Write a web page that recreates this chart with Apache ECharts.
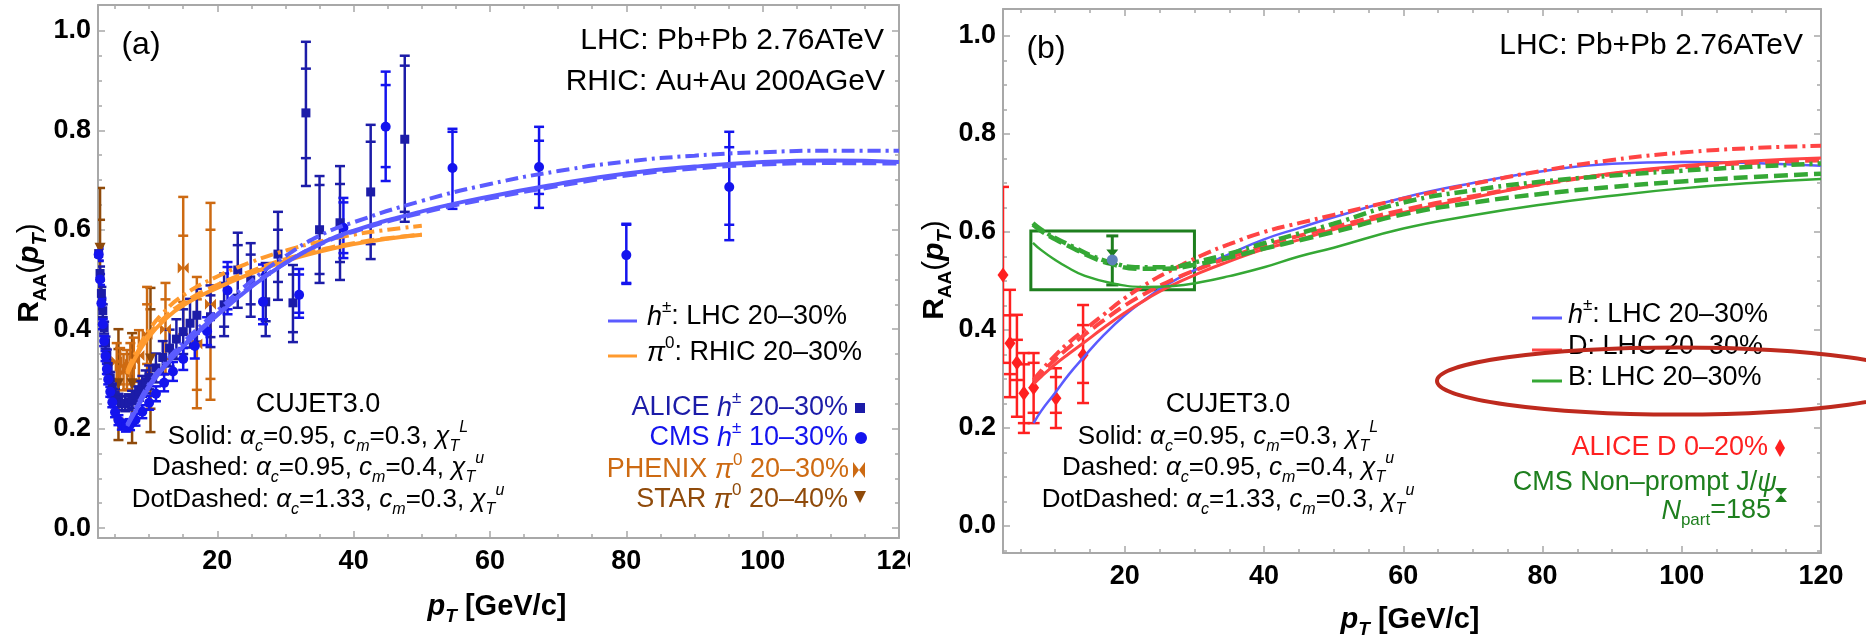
<!DOCTYPE html>
<html><head><meta charset="utf-8">
<script src="https://cdn.jsdelivr.net/npm/echarts@6/dist/echarts.min.js"></script>
<style>html,body{margin:0;padding:0;background:#fff}#c{width:1866px;height:640px}</style>
</head><body><div id="c"></div>
<script>
// ================= DATA =================
// axis ticks
const xMajor = [20, 40, 60, 80, 100, 120];
const xMinor = [5, 10, 15, 25, 30, 35, 45, 50, 55, 65, 70, 75, 85, 90, 95, 105, 110, 115];
const yMajor = [0, 0.2, 0.4, 0.6, 0.8, 1.0];
const yMinorA = [0.05, 0.1, 0.15, 0.25, 0.3, 0.35, 0.45, 0.5, 0.55, 0.65, 0.7, 0.75, 0.85, 0.9, 0.95];
const yMinorB = [-0.05, 0.05, 0.1, 0.15, 0.25, 0.3, 0.35, 0.45, 0.5, 0.55, 0.65, 0.7, 0.75, 0.85, 0.9, 0.95];

// Panel (a) data: [pT, RAA, errLow, errHigh, sysLow, sysHigh]
const aliceH = [
 [2.6,0.552,0.537,0.567],[2.8,0.512,0.498,0.526],[3.0,0.472,0.459,0.485],[3.2,0.437,0.424,0.45],
 [3.4,0.403,0.391,0.415],[3.6,0.373,0.361,0.385],[3.8,0.347,0.335,0.359],[4.0,0.325,0.313,0.337],
 [4.3,0.302,0.29,0.314],[4.6,0.284,0.272,0.296],[5.0,0.268,0.256,0.28],[5.5,0.257,0.244,0.27],
 [6.0,0.251,0.237,0.265],[6.5,0.25,0.235,0.265],[7.0,0.253,0.237,0.269],[7.5,0.259,0.242,0.276],
 [8.0,0.267,0.249,0.285],[8.5,0.276,0.256,0.296],[9.0,0.285,0.264,0.306],[9.5,0.294,0.271,0.317],
 [10.0,0.303,0.279,0.327],[11.0,0.322,0.293,0.351],[12.0,0.343,0.31,0.376],[13.0,0.362,0.325,0.399],
 [14.0,0.38,0.34,0.42],[15.0,0.395,0.35,0.44],[16.0,0.412,0.363,0.461],[17.0,0.428,0.375,0.481],
 [19.0,0.425,0.364,0.488,0.384,0.468],[21.0,0.449,0.386,0.512,0.405,0.493],
 [23.0,0.519,0.443,0.594,0.469,0.569],[24.9,0.499,0.425,0.573,0.45,0.55],
 [27.1,0.455,0.386,0.533,0.416,0.51],[28.9,0.551,0.459,0.636,0.495,0.6],
 [31.1,0.453,0.374,0.529,0.394,0.51],[33.0,0.835,0.688,0.978,0.744,0.924],
 [35.0,0.6,0.493,0.708,0.511,0.69],[38.0,0.614,0.499,0.728,0.535,0.692],
 [42.5,0.676,0.541,0.811,0.571,0.777],[47.5,0.782,0.616,0.95,0.636,0.93]
];
const cmsH = [
 [2.6,0.55,0.538,0.562],[2.8,0.5,0.489,0.511],[3.0,0.452,0.441,0.463],[3.2,0.41,0.4,0.42],
 [3.4,0.376,0.366,0.386],[3.6,0.346,0.336,0.356],[3.8,0.32,0.31,0.33],[4.0,0.299,0.289,0.309],
 [4.3,0.274,0.264,0.284],[4.6,0.253,0.243,0.263],[5.0,0.233,0.223,0.243],[5.5,0.217,0.207,0.227],
 [6.0,0.208,0.198,0.218],[6.6,0.205,0.194,0.216],[7.2,0.208,0.197,0.219],[8.0,0.218,0.206,0.23],
 [9.0,0.234,0.221,0.247],[10.0,0.252,0.238,0.266],[11.0,0.27,0.255,0.285],[12.2,0.292,0.275,0.309],
 [13.5,0.315,0.296,0.334],[15.0,0.34,0.318,0.362],[16.7,0.366,0.341,0.391],[18.5,0.396,0.368,0.424],
 [21.5,0.478,0.43,0.535,0.44,0.525],[26.7,0.455,0.41,0.53,0.42,0.52],
 [32.0,0.469,0.423,0.521,0.433,0.51],[38.5,0.604,0.543,0.664,0.553,0.655],
 [44.7,0.807,0.698,0.918,0.726,0.891],[54.5,0.724,0.642,0.803,0.65,0.797],
 [67.2,0.726,0.644,0.807,0.672,0.779],[80.0,0.549,0.491,0.612,0.493,0.61],
 [95.1,0.686,0.579,0.797,0.61,0.766]
];
const phenixPi0 = [
 [5.25,0.335,0.3,0.372],[5.75,0.325,0.289,0.362],[6.25,0.313,0.277,0.35],[6.75,0.318,0.279,0.358],
 [7.25,0.33,0.289,0.372],[7.75,0.338,0.294,0.383],[8.5,0.347,0.297,0.398],
 [9.7,0.39,0.3,0.485,0.33,0.45],[12.4,0.4,0.31,0.493,0.34,0.46],
 [15.0,0.523,0.39,0.666,0.455,0.588],[17.0,0.37,0.241,0.505,0.278,0.46],
 [19.0,0.45,0.258,0.654,0.3,0.6]
];
const starPi0 = [
 [2.8,0.563,0.44,0.684,0.5,0.62],[5.5,0.29,0.177,0.4,0.22,0.36],
 [7.5,0.29,0.171,0.392,0.21,0.35],[10.2,0.34,0.193,0.483,0.24,0.44]
];
// CUJET3.0 curves, panel (a)
const hSolidA = [[6.8,0.205],[8,0.235],[10,0.283],[12,0.32],[15,0.365],[20,0.428],[25,0.485],[30,0.533],[35,0.571],[40,0.598],[50,0.637],[60,0.667],[70,0.692],[80,0.713],[90,0.727],[100,0.736],[110,0.739],[120,0.736]];
const hDashedA = [[6.8,0.207],[8,0.238],[10,0.287],[12,0.323],[15,0.367],[20,0.43],[25,0.487],[30,0.533],[35,0.57],[40,0.596],[50,0.634],[60,0.663],[70,0.688],[80,0.709],[90,0.723],[100,0.731],[110,0.734],[120,0.733]];
const hDotDashedA = [[6.8,0.208],[8,0.24],[10,0.29],[12,0.327],[15,0.373],[20,0.437],[25,0.497],[30,0.547],[35,0.588],[40,0.615],[50,0.658],[60,0.692],[70,0.718],[80,0.737],[90,0.749],[100,0.756],[110,0.759],[120,0.759]];
const piSolidA = [[6.8,0.31],[8,0.343],[10,0.385],[12,0.415],[15,0.448],[20,0.483],[25,0.512],[30,0.537],[35,0.556],[40,0.571],[45,0.582],[50,0.59]];
const piDashedA = [[6.8,0.312],[8,0.347],[10,0.39],[12,0.42],[15,0.453],[20,0.489],[25,0.517],[30,0.541],[35,0.559],[40,0.573],[45,0.583],[50,0.59]];
const piDotDashedA = [[6.8,0.315],[8,0.352],[10,0.398],[12,0.432],[15,0.468],[20,0.506],[25,0.535],[30,0.558],[35,0.576],[40,0.59],[45,0.6],[50,0.608]];

// Panel (b) data
const aliceD = [
 [2.5,0.512,0.333,0.692],[3.5,0.373,0.263,0.482,0.31,0.43],[4.5,0.333,0.223,0.431,0.298,0.38],
 [5.5,0.271,0.19,0.353,0.21,0.33],[6.9,0.282,0.21,0.353,0.231,0.333],
 [10.1,0.261,0.2,0.322,0.231,0.304],[14.0,0.349,0.251,0.451,0.292,0.41]
];
const cmsJpsi = [[18.2,0.543,0.492,0.592]];
const cmsJpsiBox = [[6.5,30,0.482,0.602]];
const hSolidB = [[6.9,0.21],[8,0.235],[10,0.272],[12,0.31],[14,0.343],[17,0.39],[20,0.43],[23,0.463],[26,0.492],[31,0.529],[35,0.555],[40,0.585],[45,0.608],[50,0.63],[60,0.67],[70,0.7],[80,0.724],[90,0.739],[100,0.743],[110,0.741],[120,0.735]];
const dSolidB = [[6.9,0.29],[8,0.305],[10,0.33],[12,0.352],[14,0.373],[17,0.405],[20,0.435],[23,0.462],[26,0.486],[31,0.518],[35,0.54],[40,0.565],[45,0.584],[50,0.605],[60,0.64],[70,0.67],[80,0.698],[90,0.72],[100,0.735],[110,0.745],[120,0.751]];
const dDashedB = [[6.9,0.295],[8,0.312],[10,0.34],[12,0.365],[14,0.388],[17,0.42],[20,0.45],[23,0.475],[26,0.497],[31,0.527],[35,0.548],[40,0.572],[45,0.592],[50,0.61],[60,0.645],[70,0.673],[80,0.698],[90,0.718],[100,0.732],[110,0.741],[120,0.746]];
const dDotDashedB = [[6.9,0.298],[8,0.317],[10,0.348],[12,0.375],[14,0.398],[17,0.432],[20,0.465],[23,0.493],[26,0.517],[31,0.552],[35,0.575],[40,0.6],[45,0.618],[50,0.635],[60,0.668],[70,0.698],[80,0.725],[90,0.747],[100,0.762],[110,0.771],[120,0.776]];
const bSolidB = [[6.8,0.578],[8,0.563],[10,0.543],[12,0.526],[14,0.512],[18,0.496],[22.8,0.488],[27,0.49],[31,0.498],[35,0.51],[40,0.528],[45,0.55],[50,0.568],[60,0.607],[70,0.634],[80,0.656],[90,0.674],[100,0.689],[110,0.7],[120,0.708]];
const bDashedB = [[6.8,0.615],[8,0.602],[10,0.585],[12.7,0.566],[15,0.55],[18,0.535],[22,0.525],[26,0.525],[30,0.533],[35,0.548],[40,0.566],[45,0.583],[50,0.6],[60,0.636],[70,0.66],[80,0.678],[90,0.692],[100,0.703],[110,0.712],[120,0.719]];
const bDotDashedB = [[6.8,0.618],[8,0.605],[10,0.588],[12.7,0.569],[15,0.553],[18,0.538],[22,0.528],[26,0.528],[30,0.538],[35,0.556],[40,0.577],[45,0.597],[50,0.617],[60,0.66],[70,0.685],[80,0.703],[90,0.715],[100,0.725],[110,0.733],[120,0.74]];

// ================= STYLE =================
const F = "'Liberation Sans', Arial, Helvetica, sans-serif";
const FRAME = '#a8a8a8';
const H_C = '#5b5bff', PI_C = '#ff9a2e', ALICE_C = '#1c1ca8', CMS_C = '#1414ee',
      PHENIX_C = '#cd6a12', STAR_C = '#8f4a0a', D_C = '#ff4444', B_C = '#35a835',
      DPT_C = '#ff2020', JPSI_C = '#1e7f1e', JPSI_DOT = '#5e82b8';
const DASH = [14, 6], DOTDASH = [13, 5, 3, 5];

function mkX(grid, pos, vals, len, labels, line) {
  return {type: 'value', gridIndex: grid, position: pos, min: 2.5, max: 120, silent: true,
    splitLine: {show: false}, minorTick: {show: false},
    axisLine: {show: line, onZero: false, lineStyle: {color: FRAME, width: 2}},
    axisTick: {show: true, inside: true, length: len, customValues: vals, lineStyle: {color: FRAME, width: 1.5}},
    axisLabel: {show: labels, customValues: vals, color: '#000', fontFamily: F, fontWeight: 'bold', fontSize: 27, margin: 10,
      formatter: v => String(Math.round(v))}};
}
function mkY(grid, pos, min, max, vals, len, labels, line) {
  return {type: 'value', gridIndex: grid, position: pos, min: min, max: max, silent: true,
    splitLine: {show: false}, minorTick: {show: false},
    axisLine: {show: line, onZero: false, lineStyle: {color: FRAME, width: 2}},
    axisTick: {show: true, inside: true, length: len, customValues: vals, lineStyle: {color: FRAME, width: 1.5}},
    axisLabel: {show: labels, customValues: vals, color: '#000', fontFamily: F, fontWeight: 'bold', fontSize: 27, margin: 7,
      formatter: v => (Math.round(v * 10) / 10).toFixed(1)}};
}
function pad(rows) { return rows.map(r => r.length >= 6 ? r : r.concat([null, null]).slice(0, 6)); }
function errSeries(rows, color, lw, cap, ai) {
  return {type: 'custom', xAxisIndex: ai, yAxisIndex: ai, data: pad(rows), clip: true, silent: true, z: 3,
    dimensions: ['x', 'y', 'lo', 'hi', 'lo2', 'hi2'], encode: {x: 0, y: 1},
    renderItem: (params, api) => {
      const x = api.value(0);
      const st = {stroke: color, lineWidth: lw};
      const a = api.coord([x, api.value(2)]), b = api.coord([x, api.value(3)]);
      const ch = [
        {type: 'line', shape: {x1: a[0], y1: a[1], x2: b[0], y2: b[1]}, style: st},
        {type: 'line', shape: {x1: a[0] - cap, y1: a[1], x2: a[0] + cap, y2: a[1]}, style: st},
        {type: 'line', shape: {x1: b[0] - cap, y1: b[1], x2: b[0] + cap, y2: b[1]}, style: st}];
      const l2 = api.value(4), h2 = api.value(5);
      if (l2 !== null && !isNaN(l2)) {
        const c = api.coord([x, l2]), d = api.coord([x, h2]);
        ch.push({type: 'line', shape: {x1: c[0] - cap, y1: c[1], x2: c[0] + cap, y2: c[1]}, style: st});
        ch.push({type: 'line', shape: {x1: d[0] - cap, y1: d[1], x2: d[0] + cap, y2: d[1]}, style: st});
      }
      return {type: 'group', children: ch};
    }};
}
function pts(rows, ai, symbol, size, color, rot, z) {
  return {type: 'scatter', xAxisIndex: ai, yAxisIndex: ai, data: rows.map(r => [r[0], r[1]]),
    symbol: symbol, symbolSize: size, symbolRotate: rot || 0, itemStyle: {color: color, opacity: 1},
    silent: true, z: z || 4, clip: true};
}
function curve(data, ai, color, width, type, z) {
  return {type: 'line', xAxisIndex: ai, yAxisIndex: ai, data: data, showSymbol: false, symbol: 'none',
    smooth: 0.5, silent: true, z: z || 6, clip: true,
    lineStyle: {color: color, width: width, type: type || 'solid', cap: 'butt'}};
}

function richFor(S, c) {
  const s = Math.round(S * 0.62), L = Math.round(S * 1.35);
  const base = {fontFamily: F, fill: c, color: c};
  return {
    n: Object.assign({}, base, {fontSize: S, lineHeight: L}),
    i: Object.assign({}, base, {fontSize: S, lineHeight: L, fontStyle: 'italic'}),
    b: Object.assign({}, base, {fontSize: S, lineHeight: L, fontWeight: 'bold'}),
    bi: Object.assign({}, base, {fontSize: S, lineHeight: L, fontWeight: 'bold', fontStyle: 'italic'}),
    sb: Object.assign({}, base, {fontSize: s, lineHeight: s, verticalAlign: 'bottom'}),
    isb: Object.assign({}, base, {fontSize: s, lineHeight: s, verticalAlign: 'bottom', fontStyle: 'italic'}),
    bsb: Object.assign({}, base, {fontSize: s, lineHeight: s, verticalAlign: 'bottom', fontWeight: 'bold'}),
    bisb: Object.assign({}, base, {fontSize: Math.round(S * 0.66), lineHeight: Math.round(S * 0.66), verticalAlign: 'bottom', fontWeight: 'bold', fontStyle: 'italic'}),
    sp: Object.assign({}, base, {fontSize: s, lineHeight: s, verticalAlign: 'top'}),
    isp: Object.assign({}, base, {fontSize: s, lineHeight: s, verticalAlign: 'top', fontStyle: 'italic'})
  };
}
function txt(x, y, text, S, color, align, rot) {
  return {type: 'text', x: x, y: y, z: 50, silent: true, rotation: rot || 0,
    style: {text: text, fill: color, fontSize: S, fontFamily: F, align: align, textAlign: align,
      verticalAlign: 'middle', textVerticalAlign: 'middle', rich: richFor(S, color)}};
}
function seg(x1, x2, y, color, w) {
  return {type: 'line', z: 50, silent: true, shape: {x1: x1, y1: y, x2: x2, y2: y}, style: {stroke: color, lineWidth: w || 3}};
}
function poly(points, color) {
  return {type: 'polygon', z: 50, silent: true, shape: {points: points}, style: {fill: color}};
}

const cujet = (cx) => [
  txt(cx, 405, '{n|CUJET3.0}', 27, '#000', 'center'),
  txt(cx, 437, '{n|Solid: }{i|α}{isb|c}{n|=0.95, }{i|c}{isb|m}{n|=0.3, }{i|χ}{isb|T}{isp|L}', 26, '#000', 'center'),
  txt(cx, 468, '{n|Dashed: }{i|α}{isb|c}{n|=0.95, }{i|c}{isb|m}{n|=0.4, }{i|χ}{isb|T}{isp|u}', 26, '#000', 'center'),
  txt(cx, 500, '{n|DotDashed: }{i|α}{isb|c}{n|=1.33, }{i|c}{isb|m}{n|=0.3, }{i|χ}{isb|T}{isp|u}', 26, '#000', 'center')
];

const graphics = [
  // panel (a)
  txt(141, 45, '{n|(a)}', 32, '#000', 'center'),
  txt(884, 41, '{n|LHC: Pb+Pb 2.76ATeV}', 30, '#000', 'right'),
  txt(885, 82, '{n|RHIC: Au+Au 200AGeV}', 30, '#000', 'right'),
  seg(608, 637, 321, H_C, 3),
  txt(647, 317, '{i|h}{sp|±}{n|: LHC 20–30%}', 27, '#000', 'left'),
  seg(608, 637, 356, PI_C, 3),
  txt(647, 353, '{i|π}{sp|0}{n|: RHIC 20–30%}', 27, '#000', 'left'),
  txt(848, 408, '{n|ALICE }{i|h}{sp|±}{n| 20–30%}', 27, ALICE_C, 'right'),
  {type: 'rect', z: 50, silent: true, shape: {x: 855, y: 403, width: 10, height: 10}, style: {fill: ALICE_C}},
  txt(848, 438, '{n|CMS }{i|h}{sp|±}{n| 10–30%}', 27, CMS_C, 'right'),
  {type: 'circle', z: 50, silent: true, shape: {cx: 861, cy: 438, r: 6}, style: {fill: CMS_C}},
  txt(849, 470, '{n|PHENIX }{i|π}{sp|0}{n| 20–30%}', 27, PHENIX_C, 'right'),
  poly([[853, 462], [859, 470], [853, 478]], PHENIX_C),
  poly([[865, 462], [859, 470], [865, 478]], PHENIX_C),
  txt(848, 500, '{n|STAR }{i|π}{sp|0}{n| 20–40%}', 27, STAR_C, 'right'),
  poly([[854, 491], [866, 491], [860, 503]], STAR_C)
].concat(cujet(318)).concat([
  txt(497, 607, '{bi|p}{bisb|T}{b| [GeV/c]}', 29, '#000', 'center'),
  txt(30, 273, '{b|R}{bsb|AA}{n|(}{bi|p}{bisb|T}{n|)}', 30, '#000', 'center', Math.PI / 2),
  {type: 'rect', z: 60, silent: true, shape: {x: 910, y: 542, width: 24, height: 55}, style: {fill: '#fff'}},
  // panel (b)
  txt(1046, 49, '{n|(b)}', 32, '#000', 'center'),
  txt(1803, 46, '{n|LHC: Pb+Pb 2.76ATeV}', 30, '#000', 'right'),
  seg(1532, 1562, 318, H_C, 3),
  txt(1568, 315, '{i|h}{sp|±}{n|: LHC 20–30%}', 27, '#000', 'left'),
  seg(1532, 1562, 350, D_C, 3),
  txt(1568, 347, '{n|D: LHC 20–30%}', 27, '#000', 'left'),
  seg(1532, 1562, 381, B_C, 3),
  txt(1568, 378, '{n|B: LHC 20–30%}', 27, '#000', 'left'),
  txt(1768, 448, '{n|ALICE D 0–20%}', 27, DPT_C, 'right'),
  poly([[1780, 439], [1785, 448], [1780, 457], [1775, 448]], DPT_C),
  txt(1777, 483, '{n|CMS Non–prompt J/}{i|ψ}', 27, JPSI_C, 'right'),
  txt(1771, 511, '{i|N}{sb|part}{n|=185}', 27, JPSI_C, 'right'),
  poly([[1775, 488], [1787, 488], [1781, 495]], JPSI_C),
  poly([[1781, 495], [1775, 502], [1787, 502]], JPSI_C)
]).concat(cujet(1228)).concat([
  txt(1410, 620, '{bi|p}{bisb|T}{b| [GeV/c]}', 29, '#000', 'center'),
  txt(935, 270, '{b|R}{bsb|AA}{n|(}{bi|p}{bisb|T}{n|)}', 30, '#000', 'center', Math.PI / 2),
  {type: 'ellipse', z: 70, silent: true, shape: {cx: 1678, cy: 381, rx: 241, ry: 33.5},
    style: {fill: 'transparent', stroke: '#be2a1e', lineWidth: 4}}
]);

const BOWTIE = 'path://M0,0L5,5L0,10ZM10,0L5,5L10,10Z';
const HOURGLASS = 'path://M0,0L10,0L5,6L10,12L0,12L5,6Z';

const option = {
  animation: false,
  backgroundColor: '#fff',
  grid: [
    {left: 98, top: 5, width: 801, height: 533, containLabel: false},
    {left: 1003, top: 9, width: 818, height: 544, containLabel: false}
  ],
  xAxis: [
    mkX(0, 'bottom', xMajor, 7, true, true), mkX(0, 'bottom', xMinor, 4, false, false),
    mkX(0, 'top', xMajor, 7, false, true), mkX(0, 'top', xMinor, 4, false, false),
    mkX(1, 'bottom', xMajor, 7, true, true), mkX(1, 'bottom', xMinor, 4, false, false),
    mkX(1, 'top', xMajor, 7, false, true), mkX(1, 'top', xMinor, 4, false, false)
  ],
  yAxis: [
    mkY(0, 'left', -0.02, 1.052, yMajor, 7, true, true), mkY(0, 'left', -0.02, 1.052, yMinorA, 4, false, false),
    mkY(0, 'right', -0.02, 1.052, yMajor, 7, false, true), mkY(0, 'right', -0.02, 1.052, yMinorA, 4, false, false),
    mkY(1, 'left', -0.055, 1.055, yMajor, 7, true, true), mkY(1, 'left', -0.055, 1.055, yMinorB, 4, false, false),
    mkY(1, 'right', -0.055, 1.055, yMajor, 7, false, true), mkY(1, 'right', -0.055, 1.055, yMinorB, 4, false, false)
  ],
  series: [
    // panel (a)
    errSeries(starPi0, STAR_C, 2.5, 5, 0),
    errSeries(phenixPi0, PHENIX_C, 2.5, 5, 0),
    errSeries(aliceH, ALICE_C, 2.5, 5, 0),
    errSeries(cmsH, CMS_C, 2.5, 5, 0),
    pts(starPi0, 0, 'triangle', 11, STAR_C, 180),
    pts(phenixPi0, 0, BOWTIE, [11, 11], PHENIX_C),
    pts(aliceH, 0, 'rect', 9, ALICE_C),
    pts(cmsH, 0, 'circle', 10, CMS_C),
    curve(piSolidA, 0, PI_C, 4, 'solid'),
    curve(piDashedA, 0, PI_C, 4, DASH),
    curve(piDotDashedA, 0, PI_C, 4, DOTDASH),
    curve(hSolidA, 0, H_C, 4, 'solid'),
    curve(hDashedA, 0, H_C, 4, DASH),
    curve(hDotDashedA, 0, H_C, 4, DOTDASH),
    // panel (b)
    errSeries(aliceD, DPT_C, 2.5, 6, 4),
    pts(aliceD, 4, 'diamond', [11, 15], DPT_C),
    {type: 'custom', xAxisIndex: 4, yAxisIndex: 4, data: cmsJpsiBox, clip: true, silent: true, z: 5,
      dimensions: ['x0', 'x1', 'y0', 'y1'], encode: {x: [0, 1], y: [2, 3]},
      renderItem: (params, api) => {
        const p0 = api.coord([api.value(0), api.value(3)]), p1 = api.coord([api.value(1), api.value(2)]);
        return {type: 'rect', shape: {x: p0[0], y: p0[1], width: p1[0] - p0[0], height: p1[1] - p0[1]},
          style: {fill: 'transparent', stroke: JPSI_C, lineWidth: 3}};
      }},
    errSeries(cmsJpsi, JPSI_C, 3, 6, 4),
    curve(hSolidB, 4, H_C, 2.5, 'solid', 6),
    curve(dSolidB, 4, D_C, 3, 'solid', 6),
    curve(dDashedB, 4, D_C, 4, DASH, 6),
    curve(dDotDashedB, 4, D_C, 4, DOTDASH, 6),
    curve(bSolidB, 4, B_C, 2.5, 'solid', 6),
    curve(bDashedB, 4, B_C, 4.5, DASH, 6),
    curve(bDotDashedB, 4, B_C, 4.5, DOTDASH, 6),
    pts(cmsJpsi.map(r => [r[0], r[1] + 0.006]), 4, HOURGLASS, [12, 15], JPSI_C, 0, 8),
    pts(cmsJpsi, 4, 'circle', 11, JPSI_DOT, 0, 9)
  ],
  graphic: {elements: graphics}
};

const chart = echarts.init(document.getElementById('c'), null, {renderer: 'canvas'});
chart.setOption(option);
</script></body></html>
